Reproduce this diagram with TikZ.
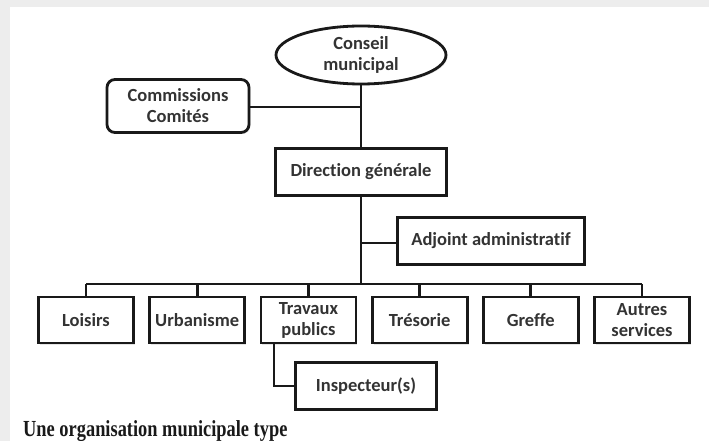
\documentclass[tikz,border=0pt]{standalone}
\usepackage{fontspec}
\setmainfont{Carlito}[Ligatures = NoCommon]
\newfontfamily\capfont{Liberation Serif}
\usetikzlibrary{shapes.geometric,shadows}

\tikzset{
  unit/.style = {draw = black!90, line width = 2.8pt, fill = white,
                 text = black!80, font = \fontsize{18.5}{21}\selectfont\bfseries,
                 align = center, inner sep = 0pt,
                 drop shadow = {opacity = .2, shadow xshift = 1.5pt, shadow yshift = -1.5pt}},
  service/.style = {unit, minimum width = 95pt, minimum height = 46pt},
  link/.style = {line width = 2.8pt, draw = black!90}
}

\begin{document}
\begin{tikzpicture}[x = 1pt, y = -1pt]
  \useasboundingbox (0, 0) rectangle (709, 441);
  \fill[black!7] (0, 0) rectangle (709, 441);
  \fill[white] (10, 7) rectangle (709, 441);

  %%top
  \node[unit, ellipse, minimum width = 170pt, minimum height = 58pt] (conseil) at (361, 55) {Conseil\\municipal};
  \node[unit, rounded corners = 8pt, minimum width = 142pt, minimum height = 53pt] (commissions) at (178, 106) {Commissions\\Comités};
  \node[unit, minimum width = 171pt, minimum height = 47pt] (direction) at (361, 172) {Direction générale};
  \node[unit, minimum width = 187pt, minimum height = 47pt] (adjoint) at (491, 241) {Adjoint administratif};

    \coordinate (c1) at (361, 107);
    \coordinate (c2) at (361, 243);
    \coordinate (bus) at (361, 284);

  \draw[link](conseil) to (direction);
  \draw[link](commissions.east |- c1) to (c1);
  \draw[link](direction) to (bus);
  \draw[link](c2) to (adjoint.west |- c2);

  %%services
  \node[service] (loisirs) at (86, 320) {Loisirs};
  \node[service] (urbanisme) at (197.2, 320) {Urbanisme};
  \node[service] (travaux) at (308.4, 320) {Travaux\\publics};
  \node[service] (tresorie) at (419.6, 320) {Trésorie};
  \node[service] (greffe) at (530.8, 320) {Greffe};
  \node[service] (autres) at (642, 320) {Autres\\services};

    \draw[link](loisirs.north |- bus) to (autres.north |- bus);
    \foreach \s in {loisirs, urbanisme, travaux, tresorie, greffe, autres}
      \draw[link](\s.north |- bus) to (\s.north);

  %%inspecteur
  \node[unit, minimum width = 141pt, minimum height = 47pt] (inspecteur) at (366, 386) {Inspecteur(s)};
    \coordinate (t1) at (274, 343);
    \draw[link](t1) to (t1 |- inspecteur) to (inspecteur.west);

  %%caption
  \node[anchor = base west, inner sep = 0pt, text = black!90] (legende) at (23, 436)
    {\scalebox{.8}[1]{\capfont\bfseries\fontsize{23}{25}\selectfont Une organisation municipale type}};

\end{tikzpicture}
\end{document}
